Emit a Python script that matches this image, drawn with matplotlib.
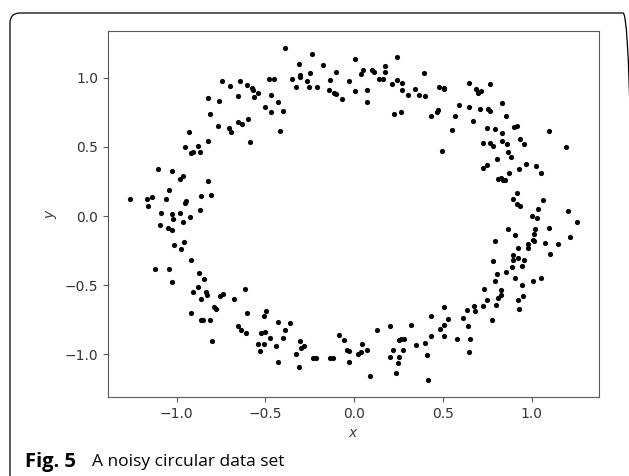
import matplotlib
matplotlib.use("Agg")
import matplotlib.pyplot as plt
from matplotlib.patches import FancyBboxPatch
from matplotlib.transforms import IdentityTransform

# points, walking round the ring
x_top = [-0.387, -0.478, -0.452, -0.467, -0.503, -0.429, -0.467, -0.401, -0.418, -0.351,
         -0.328, -0.313, -0.306, -0.304, -0.266, -0.249, -0.252, -0.240, -0.207, -0.178,
         -0.142, -0.139, -0.114, -0.105, -0.100, -0.071, -0.032, 0.002, 0.002, 0.039,
         0.051, 0.073, 0.073, 0.103, 0.114, 0.141, 0.163, 0.171, 0.174, 0.212,
         0.240, 0.242, 0.268, 0.268, 0.302, 0.225, 0.263, 0.342, 0.364, 0.396,
         0.392, 0.433, 0.477, 0.505, 0.508]
y_top = [1.219, 0.989, 0.989, 0.873, 0.789, 0.823, 0.753, 0.760, 0.618, 0.994,
         0.931, 1.103, 1.023, 1.004, 0.980, 1.038, 0.931, 1.170, 0.931, 1.095,
         0.910, 0.987, 0.888, 0.883, 1.045, 0.844, 0.980, 1.134, 0.902, 1.030,
         1.059, 0.910, 0.825, 1.059, 1.045, 0.994, 0.989, 1.083, 1.040, 0.953,
         1.148, 0.982, 0.962, 0.915, 0.876, 0.738, 0.753, 0.922, 0.876, 0.866,
         1.033, 0.724, 0.933, 0.930, 0.916]

x_upper_right = [0.649, 0.688, 0.696, 0.716, 0.767, 0.833, 0.593, 0.649, 0.707, 0.756,
                 0.764, 0.855, 0.469, 0.474, 0.570, 0.671, 0.550, 0.750, 0.795, 0.833,
                 0.902, 0.919, 1.096, 0.932, 0.955, 0.728, 0.764, 0.784, 0.833, 0.863,
                 0.865, 0.884, 0.805, 1.191, 0.494, 0.724, 0.747, 0.929, 0.968, 1.024]
y_upper_right = [0.962, 0.919, 0.890, 0.902, 0.955, 0.818, 0.803, 0.789, 0.774, 0.774,
                 0.758, 0.724, 0.753, 0.765, 0.724, 0.687, 0.625, 0.637, 0.630, 0.601,
                 0.644, 0.651, 0.618, 0.557, 0.524, 0.531, 0.531, 0.509, 0.541, 0.524,
                 0.466, 0.427, 0.415, 0.502, 0.473, 0.347, 0.367, 0.343, 0.374, 0.365]

x_right = [0.872, 1.051, 0.809, 0.827, 0.837, 0.850, 0.917, 0.895, 0.917, 0.934,
           1.062, 1.034, 1.206, 1.253, 1.000, 1.030, 0.867, 0.906, 1.019, 1.011,
           1.099, 0.793, 1.005, 1.013, 0.977, 0.979, 0.921, 1.073, 1.146, 1.214,
           1.105, 0.893, 0.897, 0.925, 0.957, 0.782, 0.889, 0.945, 0.857, 0.807,
           0.793, 0.906, 1.005, 1.051, 0.945, 0.733, 0.827, 0.826, 0.809, 0.949,
           0.925, 0.748]
y_right = [0.311, 0.314, 0.266, 0.275, 0.258, 0.258, 0.169, 0.126, 0.090, 0.070,
           0.119, 0.048, 0.034, -0.046, 0.000, -0.017, -0.096, -0.140, -0.096, -0.127,
           -0.089, -0.181, -0.171, -0.183, -0.205, -0.229, -0.229, -0.195, -0.205, -0.154,
           -0.277, -0.284, -0.316, -0.301, -0.318, -0.326, -0.371, -0.364, -0.405, -0.422,
           -0.470, -0.451, -0.470, -0.449, -0.499, -0.525, -0.535, -0.574, -0.593, -0.579,
           -0.605, -0.610]

x_lower_right = [0.801, 0.726, 0.675, 0.683, 0.638, 0.615, 0.642, 0.654, 0.649, 0.581,
                 0.503, 0.527, 0.508, 0.486, 0.503, 0.433, 0.433, 0.777, 0.927]
y_lower_right = [-0.641, -0.648, -0.648, -0.687, -0.677, -0.735, -0.798, -0.887, -0.986, -0.887,
                 -0.658, -0.742, -0.786, -0.815, -0.865, -0.721, -0.865, -0.750, -0.673]

x_bottom = [-0.510, -0.495, -0.523, -0.505, -0.508, -0.531, -0.540, -0.474, -0.429, -0.443,
            -0.429, -0.401, -0.390, -0.362, -0.328, -0.311, -0.304, -0.298, -0.280, -0.231,
            -0.218, -0.139, -0.120, -0.084, -0.055, -0.043, -0.030, -0.028, 0.023, 0.039,
            0.045, 0.073, 0.090, 0.129, 0.201, 0.218, 0.201, 0.236, 0.246, 0.252,
            0.252, 0.264, 0.280, 0.276, 0.319, 0.347, 0.396, 0.409, 0.415]
y_bottom = [-0.721, -0.685, -0.847, -0.842, -0.923, -0.974, -0.923, -0.880, -0.767, -0.943,
            -1.059, -0.880, -0.822, -0.771, -1.001, -1.095, -0.907, -0.955, -0.943, -1.030,
            -1.030, -1.030, -1.030, -0.858, -0.894, -0.972, -0.979, -1.059, -1.001, -0.986,
            -0.923, -0.967, -1.158, -0.822, -0.798, -0.972, -1.022, -1.136, -1.064, -1.022,
            -0.894, -0.890, -0.890, -0.967, -0.791, -0.936, -0.916, -1.008, -1.189]

x_lower_left = [-0.910, -0.833, -0.827, -0.861, -0.756, -0.739, -0.675, -0.615, -0.917, -0.861,
                -0.850, -0.810, -0.792, -0.777, -0.799, -0.604, -0.653, -0.636, -0.609]
y_lower_left = [-0.550, -0.550, -0.574, -0.601, -0.581, -0.567, -0.601, -0.530, -0.702, -0.750,
                -0.750, -0.750, -0.658, -0.675, -0.902, -0.702, -0.798, -0.827, -0.847]

x_left = [-1.105, -1.028, -0.981, -0.966, -0.826, -1.043, -1.261, -1.167, -1.139, -1.161,
          -1.062, -0.945, -0.953, -0.865, -0.809, -0.870, -1.090, -1.024, -1.022, -0.983,
          -0.923, -0.966, -1.093, -1.048, -1.028, -1.015, -0.978, -0.961, -0.921, -1.124,
          -1.043, -1.028, -0.876, -0.848, -0.882]
y_left = [0.343, 0.329, 0.266, 0.292, 0.256, 0.191, 0.121, 0.121, 0.135, 0.070,
          0.121, 0.109, 0.092, 0.143, 0.150, 0.041, 0.022, 0.017, -0.024, 0.025,
          -0.007, -0.043, -0.065, -0.087, -0.103, -0.212, -0.236, -0.188, -0.318, -0.384,
          -0.384, -0.478, -0.415, -0.456, -0.514]

x_upper_left = [-0.955, -0.929, -0.921, -0.910, -0.880, -0.870, -0.822, -0.814, -0.826, -0.760,
                -0.765, -0.743, -0.698, -0.703, -0.692, -0.656, -0.656, -0.630, -0.642, -0.602,
                -0.578, -0.568, -0.542, -0.565, -0.598, -0.587]
y_upper_left = [0.499, 0.608, 0.456, 0.466, 0.507, 0.466, 0.546, 0.738, 0.852, 0.832,
                0.651, 0.975, 0.939, 0.640, 0.611, 0.866, 0.678, 0.666, 0.975, 0.946,
                0.929, 0.915, 0.890, 0.861, 0.702, 0.535]

xs = x_top + x_upper_right + x_right + x_lower_right + x_bottom + x_lower_left + x_left + x_upper_left
ys = y_top + y_upper_right + y_right + y_lower_right + y_bottom + y_lower_left + y_left + y_upper_left

fig = plt.figure(figsize=(6.29, 4.76), dpi=100)
ax = fig.add_axes([0.1717, 0.166, 0.7806, 0.769])

ax.scatter(xs, ys, s=14, c='k', linewidths=0)
ax.set_xlabel('$x$', color='0.25')
ax.set_ylabel('$y$', color='0.25')
for sp in ax.spines.values():
    sp.set_color('0.35')
ax.tick_params(colors='0.35', labelcolor='0.2')

# frame round the figure + caption
frame = FancyBboxPatch((10, -20), 623, 483, boxstyle="round,pad=0,rounding_size=10",
                       transform=IdentityTransform(), fill=False, lw=0.9, ec='k')
fig.patches.append(frame)
fig.text(25 / 629, 9.5 / 476, 'Fig. 5', fontsize=14.5, fontweight='bold',
         family='Open Sans', va='baseline')
fig.text(92 / 629, 9.5 / 476, 'A noisy circular data set', fontsize=12.5,
         family='Open Sans', va='baseline')

fig.savefig('out.png', dpi=100)
